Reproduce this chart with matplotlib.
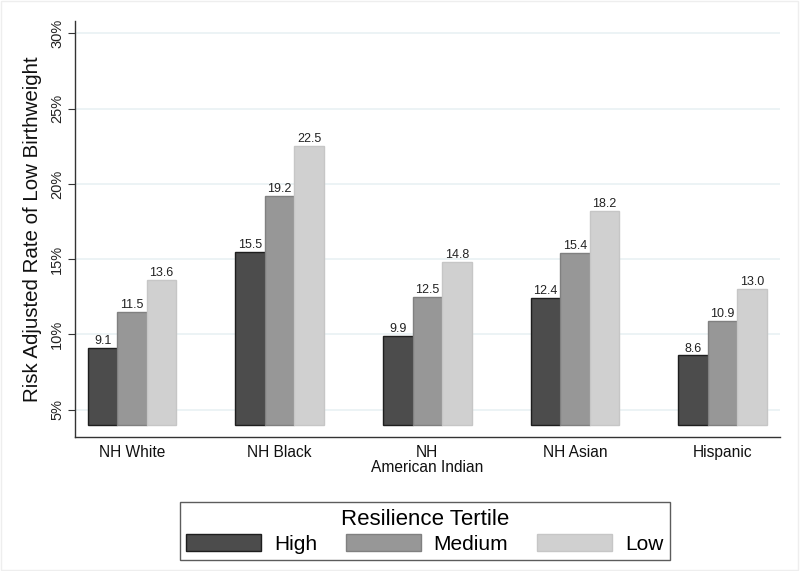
import matplotlib
matplotlib.use("Agg")
import matplotlib.pyplot as plt
import numpy as np

plt.rcParams['font.family'] = ['Liberation Sans', 'DejaVu Sans']

groups = ["NH White", "NH Black", "NH\nAmerican Indian", "NH Asian", "Hispanic"]
series = ["High", "Medium", "Low"]
high = [9.1, 15.5, 9.9, 12.4, 8.6]
medium = [11.5, 19.2, 12.5, 15.4, 10.9]
low = [13.6, 22.5, 14.8, 18.2, 13.0]
yticks = [5, 10, 15, 20, 25, 30]
ytick_labels = ["5%", "10%", "15%", "20%", "25%", "30%"]

base = 4.0
fills = ["#4c4c4c", "#979797", "#d0d0d0"]
edges = ["#1e1e1e", "#808080", "#c6c6c6"]

fig = plt.figure(figsize=(8, 5.71), dpi=100)
ax = fig.add_axes([0.094, 0.2345, 0.881, 0.729])

x = np.arange(len(groups))
w = 0.2
for i, (vals, name) in enumerate(zip([high, medium, low], series)):
    pos = x + (i - 1) * w
    heights = [v - base for v in vals]
    ax.bar(pos, heights, w, bottom=base, color=fills[i], edgecolor=edges[i],
           linewidth=1.0, label=name, zorder=3)
    for p, v in zip(pos, vals):
        ax.text(p, v + 0.06, f"{v:.1f}", ha="center", va="bottom", fontsize=9,
                color="#222222", zorder=4)

ax.set_xlim(-0.386, 4.39)
ax.set_ylim(3.17, 30.84)
ax.set_yticks(yticks)
ax.set_yticklabels(ytick_labels, rotation=90, va="center", fontsize=10.5, color="#222222")
ax.set_xticks(x)
ax.set_xticklabels(groups, fontsize=11.2, color="#111111", linespacing=1.0)
ax.tick_params(axis="x", length=0, pad=6)
ax.tick_params(axis="y", length=5, width=0.8, color="#333333", pad=3)
ax.yaxis.grid(True, color="#e9f1f3", linewidth=1.2, zorder=0)
ax.set_axisbelow(True)
for s in ["top", "right"]:
    ax.spines[s].set_visible(False)
for s in ["left", "bottom"]:
    ax.spines[s].set_color("#333333")
    ax.spines[s].set_linewidth(1.0)
ax.set_ylabel("Risk Adjusted Rate of Low Birthweight", fontsize=14.8, color="#111111", labelpad=6)

leg = fig.legend(loc="center", bbox_to_anchor=(0.531, 0.07), ncol=3, title="Resilience Tertile",
                 fontsize=15, title_fontsize=16, frameon=True, fancybox=False,
                 edgecolor="#333333", handlelength=3.6, handleheight=0.9, columnspacing=1.4,
                 handletextpad=0.6, borderpad=0.3, labelspacing=0.2, borderaxespad=0)
leg.get_frame().set_linewidth(1.0)

fig.patches.append(plt.Rectangle((0.001, 0.001), 0.997, 0.997, transform=fig.transFigure,
                                 fill=False, edgecolor="#eeeeee", linewidth=1))

fig.savefig("out.png", dpi=100, facecolor="white")
